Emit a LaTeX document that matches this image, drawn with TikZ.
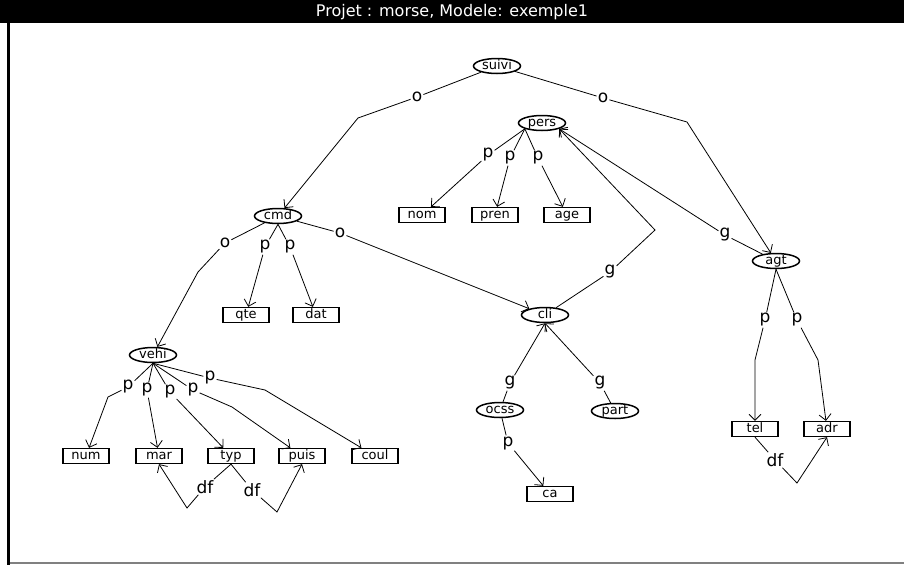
\documentclass[tikz,border=0pt]{standalone}
\usepackage{fontspec}
\setmainfont{DejaVu Sans}
\usetikzlibrary{shapes.geometric}
\usetikzlibrary{arrows.meta}

\begin{document}
\begin{tikzpicture}[x=1pt,y=-1pt,
    ov/.style={draw,ellipse,line width=1.5pt,minimum width=47pt,minimum height=15pt,inner sep=0pt,text height=8pt,text depth=2pt,font=\fontsize{13}{13}\selectfont},
    bx/.style={draw,rectangle,line width=1.3pt,minimum width=46pt,minimum height=15pt,inner sep=0pt,text height=8pt,text depth=2pt,font=\fontsize{13}{13}\selectfont},
    lb/.style={inner sep=1pt,font=\fontsize{17}{17}\selectfont},
    ln/.style={line width=0.8pt},
    ar/.style={line width=0.8pt,-{Straight Barb[length=6pt,width=12pt]}}]
            \useasboundingbox (0,0) rectangle (904,565);
            \fill[black] (0,0) rectangle (904,23);
            \fill[black] (7,23) rectangle (10,565);
            \fill[gray]  (10,562) rectangle (904,564);
            \node[white,font=\fontsize{16}{16}\selectfont] (title) at (452,12) {Projet : morse, Modele: exemple1};

            \node[ov] (suivi) at (497,66)  {suivi};
            \node[ov] (pers)  at (542,123) {pers};
            \node[bx] (nom)   at (422,215) {nom};
            \node[bx] (pren)  at (495,215) {pren};
            \node[bx] (age)   at (567,215) {age};
            \node[ov] (cmd)   at (278,216) {cmd};
            \node[bx] (qte)   at (246,315) {qte};
            \node[bx] (dat)   at (316,315) {dat};
            \node[ov] (cli)   at (545,315) {cli};
            \node[ov] (agt)   at (776,261) {agt};
            \node[ov] (vehi)  at (153,355) {vehi};
            \node[bx] (num)   at (86,456)  {num};
            \node[bx] (mar)   at (159,456) {mar};
            \node[bx] (typ)   at (231,456) {typ};
            \node[bx] (puis)  at (302,456) {puis};
            \node[bx] (coul)  at (375,456) {coul};
            \node[ov] (ocss)  at (500,410) {ocss};
            \node[ov] (part)  at (615,411) {part};
            \node[bx] (ca)    at (550,494) {ca};
            \node[bx] (tel)   at (755,429) {tel};
            \node[bx] (adr)   at (827,429) {adr};

            \node[lb] (o1)  at (417,97)  {o};
            \node[lb] (o2)  at (603,98)  {o};
            \node[lb] (o3)  at (225,243) {o};
            \node[lb] (o4)  at (340,233) {o};
            \node[lb] (p1)  at (488,155) {p};
            \node[lb] (p2)  at (510,158) {p};
            \node[lb] (p3)  at (538,158) {p};
            \node[lb] (p4)  at (265,247) {p};
            \node[lb] (p5)  at (290,247) {p};
            \node[lb] (g1)  at (610,272) {g};
            \node[lb] (g2)  at (725,235) {g};
            \node[lb] (g3)  at (510,383) {g};
            \node[lb] (g4)  at (600,383) {g};
            \node[lb] (p6)  at (508,443) {p};
            \node[lb] (p7)  at (765,320) {p};
            \node[lb] (p8)  at (797,320) {p};
            \node[lb] (df1) at (775,460) {df};
            \node[lb] (p9)  at (128,387) {p};
            \node[lb] (p10) at (147,390) {p};
            \node[lb] (p11) at (170,392) {p};
            \node[lb] (p12) at (193,390) {p};
            \node[lb] (p13) at (210,378) {p};
            \node[lb] (df2) at (205,487) {df};
            \node[lb] (df3) at (252,490) {df};

            \coordinate (k1)  at (358,118);
            \coordinate (k2)  at (687,122);
            \coordinate (k3)  at (198,272);
            \coordinate (k4)  at (655,230);
            \coordinate (k5)  at (755,360);
            \coordinate (k6)  at (818,360);
            \coordinate (k7)  at (797,483);
            \coordinate (k8)  at (108,397);
            \coordinate (k9)  at (232,407);
            \coordinate (k10) at (265,390);
            \coordinate (k11) at (187,508);
            \coordinate (k12) at (277,512);

            \draw[ln] (suivi) -- (o1);  \draw[ar] (o1) -- (k1) -- (cmd);
            \draw[ln] (suivi) -- (o2);  \draw[ar] (o2) -- (k2) -- (agt);
            \draw[ln] (pers.south west) -- (p1); \draw[ar] (p1) -- (nom);
            \draw[ln] (pers.south west) -- (p2); \draw[ar] (p2) -- (pren);
            \draw[ln] (pers.south west) -- (p3); \draw[ar] (p3) -- (age);
            \draw[ln] (cmd) -- (o3);    \draw[ar] (o3) -- (k3) -- (vehi);
            \draw[ln] (cmd.south) -- (p4); \draw[ar] (p4) -- (qte);
            \draw[ln] (cmd.south) -- (p5); \draw[ar] (p5) -- (dat);
            \draw[ln] (cmd) -- (o4);    \draw[ar] (o4) -- (cli);
            \draw[ln] (cli) -- (g1);    \draw[ar] (g1) -- (k4) -- (pers.south east);
            \draw[ln] (agt) -- (g2);    \draw[ar] (g2) -- (pers.south east);
            \draw[ln] (ocss) -- (g3);   \draw[ar] (g3) -- (cli.south);
            \draw[ln] (part) -- (g4);   \draw[ar] (g4) -- (cli.south);
            \draw[ln] (ocss) -- (p6);   \draw[ar] (p6) -- (ca);
            \draw[ln] (agt.south) -- (p7); \draw[ar] (p7) -- (k5) -- (tel);
            \draw[ln] (agt.south) -- (p8); \draw[ar] (p8) -- (k6) -- (adr);
            \draw[ln] (tel.south) -- (df1); \draw[ar] (df1) -- (k7) -- (adr.south);
            \draw[ln] (vehi.south) -- (p9);  \draw[ar] (p9) -- (k8) -- (num);
            \draw[ln] (vehi.south) -- (p10); \draw[ar] (p10) -- (mar);
            \draw[ln] (vehi.south) -- (p11); \draw[ar] (p11) -- (typ);
            \draw[ln] (vehi.south) -- (p12); \draw[ar] (p12) -- (k9) -- (puis);
            \draw[ln] (vehi.south) -- (p13); \draw[ar] (p13) -- (k10) -- (coul);
            \draw[ln] (typ.south) -- (df2); \draw[ar] (df2) -- (k11) -- (mar.south);
            \draw[ln] (typ.south) -- (df3); \draw[ar] (df3) -- (k12) -- (puis.south);
        \end{tikzpicture}
\end{document}
